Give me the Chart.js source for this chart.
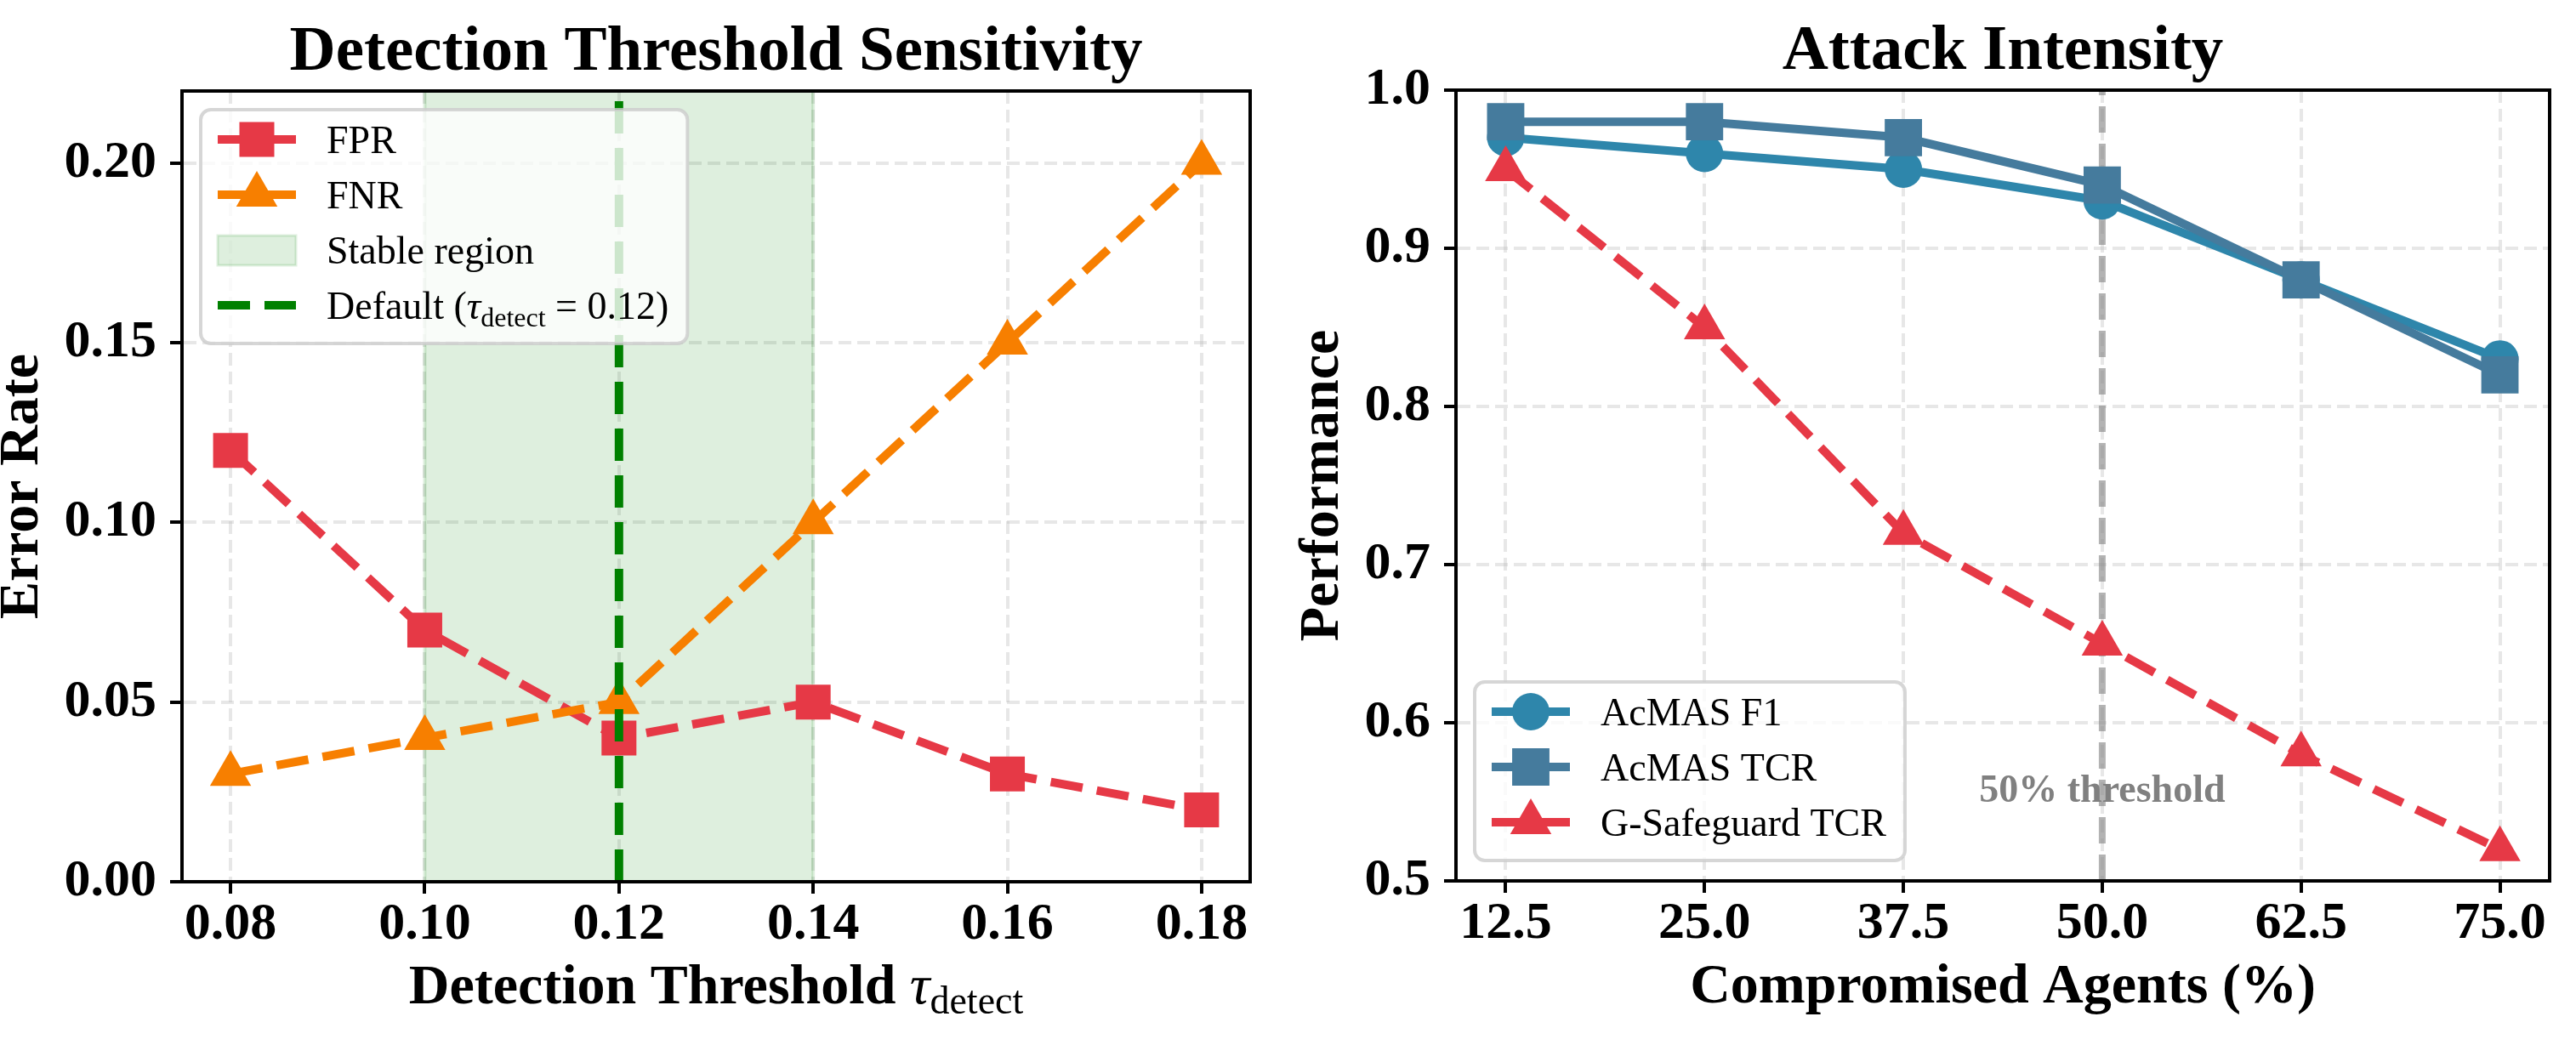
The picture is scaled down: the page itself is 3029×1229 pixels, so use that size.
<!DOCTYPE html>
<html>
<head>
<meta charset="utf-8">
<title>Detection Threshold Sensitivity / Attack Intensity</title>
<script src="https://cdn.jsdelivr.net/npm/chart.js@4.4.1/dist/chart.umd.min.js"></script>
<style>
    html, body { margin: 0; padding: 0; background: #fff; }
    #wrap { position: relative; width: 3029px; height: 1229px; }
    canvas { position: absolute; top: 0; }
</style>
</head>
<body>
<div id="wrap">
    <canvas id="thresholdChart" width="1500" height="1229" style="left:0"></canvas>
    <canvas id="attackChart" width="1529" height="1229" style="left:1500px"></canvas>
</div>
<script>
const SERIF = '"Liberation Serif", "Times New Roman", serif';

// Left panel: detection threshold sweep
const thresholds = [0.08, 0.10, 0.12, 0.14, 0.16, 0.18];
const fprValues = [0.12, 0.07, 0.04, 0.05, 0.03, 0.02];
const fnrValues = [0.03, 0.04, 0.05, 0.10, 0.15, 0.20];
const stableRegion = [0.10, 0.14];
const defaultThreshold = 0.12;
const errorRateTicks = [0.00, 0.05, 0.10, 0.15, 0.20];

// Right panel: attack intensity
const compromisedPct = [12.5, 25.0, 37.5, 50.0, 62.5, 75.0];
const acmasF1 = [0.97, 0.96, 0.95, 0.93, 0.88, 0.83];
const acmasTcr = [0.98, 0.98, 0.97, 0.94, 0.88, 0.82];
const gSafeguardTcr = [0.95, 0.85, 0.72, 0.65, 0.58, 0.52];
const performanceTicks = [0.5, 0.6, 0.7, 0.8, 0.9, 1.0];
const thresholdPct = 50;
const thresholdTextY = 0.55;

const RED = '#E63946';
const ORANGE = '#F77F00';
const BLUE = '#2E86AB';
const STEEL = '#457B9D';
const SPAN_FILL = 'rgba(0,128,0,0.13)';
const DASH = [38, 17];

function f(size, style) {
    return (style ? style + ' ' : '') + size + 'px ' + SERIF;
}

function toPoints(xs, ys) {
    return xs.map((x, i) => ({ x: x, y: ys[i] }));
}

function series(label, xs, ys, color, pointStyle, radius, dashed, order) {
    return {
        label: label,
        data: toPoints(xs, ys),
        borderColor: color,
        backgroundColor: color,
        pointBackgroundColor: color,
        pointBorderColor: color,
        pointBorderWidth: 0,
        borderWidth: 10,
        borderDash: dashed ? DASH : [],
        borderCapStyle: 'butt',
        pointStyle: pointStyle,
        pointRadius: radius,
        pointHoverRadius: radius,
        tension: 0,
        fill: false,
        order: order
    };
}

// text made of pieces in different fonts (for tau_detect subscripts)
function drawRich(ctx, parts, x, y, align) {
    let total = 0;
    parts.forEach(p => { ctx.font = p.font; p.w = ctx.measureText(p.text).width; total += p.w; });
    let cx = align === 'center' ? x - total / 2 : x;
    ctx.textAlign = 'left';
    ctx.textBaseline = 'alphabetic';
    parts.forEach(p => { ctx.font = p.font; ctx.fillText(p.text, cx, y + (p.dy || 0)); cx += p.w; });
    return total;
}

function richWidth(ctx, parts) {
    let total = 0;
    parts.forEach(p => { ctx.font = p.font; total += ctx.measureText(p.text).width; });
    return total;
}

function marker(ctx, style, radius, color, x, y) {
    ctx.fillStyle = color;
    ctx.setLineDash([]);
    Chart.helpers.drawPoint(ctx, { pointStyle: style, rotation: 0, radius: radius, borderWidth: 0 }, x, y);
}

function drawLegend(chart, items, corner) {
    const ctx = chart.ctx;
    const area = chart.chartArea;
    let maxW = 0;
    items.forEach(it => { maxW = Math.max(maxW, richWidth(ctx, it.parts)); });
    const w = 148 + maxW + 22;
    const h = 35 + 65 * (items.length - 1) + 45;
    const left = area.left + 22;
    const top = corner === 'upper left' ? area.top + 22 : area.bottom - 24 - h;

    ctx.save();
    ctx.beginPath();
    ctx.roundRect(left, top, w, h, 12);
    ctx.fillStyle = 'rgba(255,255,255,0.8)';
    ctx.fill();
    ctx.lineWidth = 4;
    ctx.strokeStyle = 'rgba(204,204,204,0.8)';
    ctx.stroke();

    items.forEach((it, i) => {
        const cy = top + 35 + 65 * i;
        const hx = left + 20;
        if (it.patch) {
            ctx.fillStyle = it.patch;
            ctx.fillRect(hx, cy - 17, 92, 35);
            ctx.strokeStyle = it.patch;
            ctx.lineWidth = 3;
            ctx.strokeRect(hx, cy - 17, 92, 35);
        } else {
            ctx.beginPath();
            ctx.setLineDash(it.dash || []);
            ctx.lineWidth = it.width;
            ctx.strokeStyle = it.color;
            ctx.lineCap = 'butt';
            ctx.moveTo(hx, cy);
            ctx.lineTo(hx + 92, cy);
            ctx.stroke();
            if (it.pointStyle) marker(ctx, it.pointStyle, it.radius, it.color, hx + 46, cy);
        }
        ctx.fillStyle = '#000';
        drawRich(ctx, it.parts, left + 148, cy + 16, 'left');
    });
    ctx.restore();
}

// frame, titles and axis labels drawn the matplotlib way
function decorate(chart, cfg) {
    const ctx = chart.ctx;
    const area = chart.chartArea;
    const cx = (area.left + area.right) / 2;
    const cy = (area.top + area.bottom) / 2;
    ctx.save();
    ctx.setLineDash([]);
    ctx.strokeStyle = '#000';
    ctx.lineWidth = 4;
    ctx.strokeRect(area.left, area.top, area.right - area.left, area.bottom - area.top);

    ctx.fillStyle = '#000';
    ctx.font = f(75, 'bold');
    ctx.textAlign = 'center';
    ctx.textBaseline = 'alphabetic';
    ctx.fillText(cfg.title, cx, area.top - 25);

    drawRich(ctx, cfg.xLabel, cx, area.bottom + 143, 'center');

    ctx.font = f(62, 'bold');
    let tickW = 0;
    cfg.yTickLabels.forEach(t => { tickW = Math.max(tickW, ctx.measureText(t).width); });
    const baseX = area.left - 30 - tickW - 32;
    ctx.translate(baseX, cy);
    ctx.rotate(-Math.PI / 2);
    ctx.font = f(66, 'bold');
    ctx.textAlign = 'center';
    ctx.fillText(cfg.yLabel, 0, 0);
    ctx.restore();
}

function axes(xMin, xMax, xTicks, xDigits, yMin, yMax, yTicks, yDigits, yWidth, xHeight) {
    const grid = {
        color: 'rgba(176,176,176,0.3)', lineWidth: 4,
        tickLength: 14, tickColor: '#000', tickWidth: 4, tickBorderDash: []
    };
    const border = { display: true, color: '#000', width: 4, dash: [15, 7] };
    const tickFont = { family: SERIF, size: 62, weight: 'bold' };
    return {
        x: {
            type: 'linear', min: xMin, max: xMax,
            grid: grid, border: border,
            afterBuildTicks: a => { a.ticks = xTicks.map(v => ({ value: v })); },
            afterFit: a => { a.height = xHeight; },
            ticks: { font: tickFont, color: '#000', padding: 0, maxRotation: 0, autoSkip: false,
                callback: v => Number(v).toFixed(xDigits) }
        },
        y: {
            type: 'linear', min: yMin, max: yMax,
            grid: grid, border: border,
            afterBuildTicks: a => { a.ticks = yTicks.map(v => ({ value: v })); },
            afterFit: a => { a.width = yWidth; },
            ticks: { font: tickFont, color: '#000', padding: 16, autoSkip: false,
                callback: v => Number(v).toFixed(yDigits) }
        }
    };
}

const baseOptions = {
    responsive: false,
    animation: false,
    devicePixelRatio: 1,
    plugins: { legend: { display: false }, title: { display: false }, tooltip: { enabled: false } },
    events: []
};

// Detection threshold chart
const thresholdPlugin = {
    id: 'thresholdDecor',
    beforeDatasetsDraw(chart) {
        const ctx = chart.ctx;
        const x = chart.scales.x;
        const area = chart.chartArea;
        const x0 = x.getPixelForValue(stableRegion[0]);
        const x1 = x.getPixelForValue(stableRegion[1]);
        ctx.save();
        ctx.fillStyle = SPAN_FILL;
        ctx.fillRect(x0, area.top, x1 - x0, area.bottom - area.top);
        ctx.strokeStyle = SPAN_FILL;
        ctx.lineWidth = 4;
        ctx.beginPath();
        ctx.moveTo(x0, area.top); ctx.lineTo(x0, area.bottom);
        ctx.moveTo(x1, area.top); ctx.lineTo(x1, area.bottom);
        ctx.stroke();
        ctx.restore();
    },
    afterDatasetsDraw(chart) {
        const ctx = chart.ctx;
        const area = chart.chartArea;
        const xp = chart.scales.x.getPixelForValue(defaultThreshold);
        ctx.save();
        ctx.strokeStyle = '#008000';
        ctx.lineWidth = 10;
        ctx.setLineDash(DASH);
        ctx.beginPath();
        ctx.moveTo(xp, area.bottom);
        ctx.lineTo(xp, area.top);
        ctx.stroke();
        ctx.restore();
    },
    afterDraw(chart) {
        decorate(chart, {
            title: 'Detection Threshold Sensitivity',
            xLabel: [
                { text: 'Detection Threshold ', font: f(66, 'bold') },
                { text: '\u03C4', font: f(66, 'italic') },
                { text: 'detect', font: f(46), dy: 12 }
            ],
            yLabel: 'Error Rate',
            yTickLabels: errorRateTicks.map(v => v.toFixed(2))
        });
        drawLegend(chart, [
            { parts: [{ text: 'FPR', font: f(46) }], color: RED, width: 10, dash: DASH, pointStyle: 'rect', radius: 29 },
            { parts: [{ text: 'FNR', font: f(46) }], color: ORANGE, width: 10, dash: DASH, pointStyle: 'triangle', radius: 28 },
            { parts: [{ text: 'Stable region', font: f(46) }], patch: SPAN_FILL },
            { parts: [
                { text: 'Default (', font: f(46) },
                { text: '\u03C4', font: f(46, 'italic') },
                { text: 'detect', font: f(32), dy: 9 },
                { text: ' = 0.12)', font: f(46) }
            ], color: '#008000', width: 10, dash: DASH }
        ], 'upper left');
    }
};

new Chart(document.getElementById('thresholdChart'), {
    type: 'line',
    data: {
        datasets: [
            series('FPR', thresholds, fprValues, RED, 'rect', 29, true, 2),
            series('FNR', thresholds, fnrValues, ORANGE, 'triangle', 28, true, 1)
        ]
    },
    options: Object.assign({}, baseOptions, {
        layout: { padding: { top: 107, right: 30, bottom: 0, left: 0 } },
        scales: axes(0.075, 0.185, thresholds, 2, 0, 0.22, errorRateTicks, 2, 214, 192)
    }),
    plugins: [thresholdPlugin]
});

// Attack intensity chart
const attackPlugin = {
    id: 'attackDecor',
    beforeDatasetsDraw(chart) {
        const ctx = chart.ctx;
        const area = chart.chartArea;
        const xp = chart.scales.x.getPixelForValue(thresholdPct);
        ctx.save();
        ctx.strokeStyle = 'rgba(128,128,128,0.6)';
        ctx.lineWidth = 8;
        ctx.setLineDash([31, 13]);
        ctx.beginPath();
        ctx.moveTo(xp, area.bottom);
        ctx.lineTo(xp, area.top);
        ctx.stroke();
        ctx.restore();
    },
    afterDraw(chart) {
        const ctx = chart.ctx;
        ctx.save();
        ctx.fillStyle = '#808080';
        ctx.font = f(46, 'bold');
        ctx.textAlign = 'center';
        ctx.textBaseline = 'alphabetic';
        ctx.fillText('50% threshold', chart.scales.x.getPixelForValue(thresholdPct),
            chart.scales.y.getPixelForValue(thresholdTextY));
        ctx.restore();
        decorate(chart, {
            title: 'Attack Intensity',
            xLabel: [{ text: 'Compromised Agents (%)', font: f(66, 'bold') }],
            yLabel: 'Performance',
            yTickLabels: performanceTicks.map(v => v.toFixed(1))
        });
        drawLegend(chart, [
            { parts: [{ text: 'AcMAS F1', font: f(46) }], color: BLUE, width: 10, pointStyle: 'circle', radius: 22 },
            { parts: [{ text: 'AcMAS TCR', font: f(46) }], color: STEEL, width: 10, pointStyle: 'rect', radius: 31 },
            { parts: [{ text: 'G-Safeguard TCR', font: f(46) }], color: RED, width: 10, dash: DASH, pointStyle: 'triangle', radius: 28 }
        ], 'lower left');
    }
};

new Chart(document.getElementById('attackChart'), {
    type: 'line',
    data: {
        datasets: [
            series('AcMAS F1', compromisedPct, acmasF1, BLUE, 'circle', 22, false, 3),
            series('AcMAS TCR', compromisedPct, acmasTcr, STEEL, 'rect', 31, false, 2),
            series('G-Safeguard TCR', compromisedPct, gSafeguardTcr, RED, 'triangle', 28, true, 1)
        ]
    },
    options: Object.assign({}, baseOptions, {
        layout: { padding: { top: 106, right: 29, bottom: 0, left: 0 } },
        scales: axes(9.375, 78.125, compromisedPct, 1, 0.5, 1.0, performanceTicks, 1, 212, 193)
    }),
    plugins: [attackPlugin]
});
</script>
</body>
</html>
